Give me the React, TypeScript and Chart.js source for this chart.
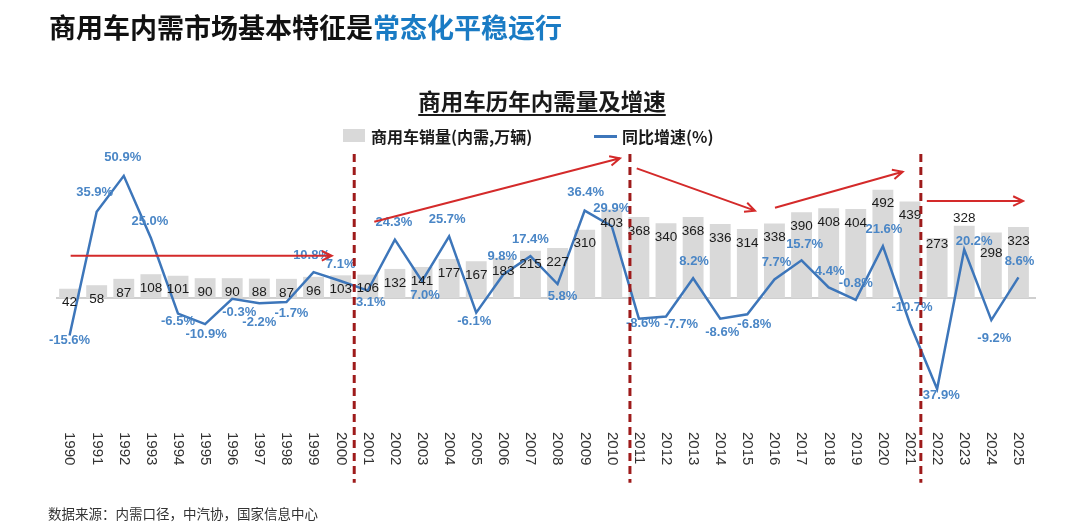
import React, { useRef, useEffect } from 'react';
import { Chart, registerables } from 'chart.js';

Chart.register(...registerables);

// 商用车内需量（万辆）及同比增速（%）
const years = [
  '1990', '1991', '1992', '1993', '1994', '1995', '1996', '1997', '1998', '1999',
  '2000', '2001', '2002', '2003', '2004', '2005', '2006', '2007', '2008', '2009',
  '2010', '2011', '2012', '2013', '2014', '2015', '2016', '2017', '2018', '2019',
  '2020', '2021', '2022', '2023', '2024', '2025',
];
const sales = [
  42, 58, 87, 108, 101, 90, 90, 88, 87, 96,
  103, 106, 132, 141, 177, 167, 183, 215, 227, 310,
  403, 368, 340, 368, 336, 314, 338, 390, 408, 404,
  492, 439, 273, 328, 298, 323,
];
const growth = [
  -15.6, 35.9, 50.9, 25.0, -6.5, -10.9, -0.3, -2.2, -1.7, 10.8,
  7.1, 3.1, 24.3, 7.0, 25.7, -6.1, 9.8, 17.4, 5.8, 36.4,
  29.9, -8.6, -7.7, 8.2, -8.6, -6.8, 7.7, 15.7, 4.4, -0.8,
  21.6, -10.7, -37.9, 20.2, -9.2, 8.6,
];

// label placement (px offsets from the point), kept apart from the data
const pctLabelDx = [
  0, -2, -1, -1, 0, 1, 7, 0, 5, -2, 0, 3, -1, 3, -2, -2, -1, 0, 5, 1,
  0, 4, 15, 1, 2, 7, 2, 3, 1, 0, 1, 2, 2, 10, 3, 1,
];
const pctLabelDy = [
  5, -19, -18, -17, 8, 10, 14, 19, 11, -17, -17, 12, -17, 14, -17, 9, -18, -17, 12, -18,
  -18, 5, 8, -17, 14, 10, -17, -16, -16, -16, -17, -16, 6, -8, 18, -16,
];
const barLabelDy: Record<number, number> = { 32: 6, 33: -8, 34: 21 };

// annotations in [category index, growth %]
const separators = [10.5, 20.67, 31.4];
const arrows = [
  [[0.04, 17.6], [9.67, 17.6]],
  [[11.24, 31.8], [20.3, 58.2]],
  [[20.92, 54.0], [25.28, 36.4]],
  [[26.02, 37.6], [30.73, 52.6]],
  [[31.62, 40.4], [35.17, 40.4]],
];

const NUM_FONT = "'Liberation Sans', Arial, sans-serif";

const overlayPlugin = {
  id: 'overlay',
  beforeDatasetsDraw(chart: any) {
    const { ctx, chartArea, scales } = chart;
    const y0 = scales.yBar.getPixelForValue(0);
    ctx.save();
    ctx.strokeStyle = '#bfbfbf';
    ctx.lineWidth = 1.5;
    ctx.beginPath();
    ctx.moveTo(chartArea.left, y0);
    ctx.lineTo(chartArea.right + 4, y0);
    ctx.stroke();
    ctx.restore();
  },
  afterDraw(chart: any) {
    const { ctx, chartArea, scales } = chart;
    const x = scales.x;
    const yBar = scales.yBar;
    const yPct = scales.yPct;
    ctx.save();

    // bar value labels
    ctx.font = `13.5px ${NUM_FONT}`;
    ctx.fillStyle = '#1a1a1a';
    ctx.textAlign = 'center';
    ctx.textBaseline = 'middle';
    sales.forEach((v, i) => {
      const dy = barLabelDy[i] ?? 14;
      ctx.fillText(String(v), x.getPixelForValue(i), yBar.getPixelForValue(v) + dy);
    });

    // growth labels
    ctx.font = `bold 13px ${NUM_FONT}`;
    ctx.fillStyle = '#4a86c6';
    growth.forEach((v, i) => {
      ctx.fillText(
        v.toFixed(1) + '%',
        x.getPixelForValue(i) + pctLabelDx[i],
        yPct.getPixelForValue(v) + pctLabelDy[i]
      );
    });

    // x labels, rotated clockwise
    ctx.font = `15px ${NUM_FONT}`;
    ctx.fillStyle = '#333';
    ctx.textAlign = 'left';
    years.forEach((label, i) => {
      ctx.save();
      ctx.translate(x.getPixelForValue(i), chartArea.bottom + 26);
      ctx.rotate(Math.PI / 2);
      ctx.fillText(label, 0, 0);
      ctx.restore();
    });

    // dashed period separators
    ctx.strokeStyle = '#9e1b1b';
    ctx.lineWidth = 3;
    ctx.setLineDash([8, 5]);
    separators.forEach((s) => {
      const px = x.getPixelForValue(s);
      ctx.beginPath();
      ctx.moveTo(px, yPct.getPixelForValue(60));
      ctx.lineTo(px, yPct.getPixelForValue(-77));
      ctx.stroke();
    });
    ctx.setLineDash([]);

    // trend arrows
    ctx.strokeStyle = '#d42a2a';
    ctx.lineWidth = 2;
    arrows.forEach(([a, b]) => {
      const x1 = x.getPixelForValue(a[0]);
      const y1 = yPct.getPixelForValue(a[1]);
      const x2 = x.getPixelForValue(b[0]);
      const y2 = yPct.getPixelForValue(b[1]);
      const ang = Math.atan2(y2 - y1, x2 - x1);
      const head = 11;
      ctx.beginPath();
      ctx.moveTo(x1, y1);
      ctx.lineTo(x2, y2);
      ctx.moveTo(x2 - head * Math.cos(ang - 0.45), y2 - head * Math.sin(ang - 0.45));
      ctx.lineTo(x2, y2);
      ctx.lineTo(x2 - head * Math.cos(ang + 0.45), y2 - head * Math.sin(ang + 0.45));
      ctx.stroke();
    });

    ctx.restore();
  },
};

const CommercialVehicleChart: React.FC = () => {
  const chartRef = useRef<HTMLCanvasElement | null>(null);
  const chartInstance = useRef<Chart | null>(null);

  useEffect(() => {
    document.body.style.margin = '0';
    if (!chartRef.current) return;
    if (chartInstance.current) chartInstance.current.destroy();

    chartInstance.current = new Chart(chartRef.current, {
      type: 'bar',
      data: {
        labels: years,
        datasets: [
          {
            type: 'line',
            label: '同比增速(%)',
            data: growth,
            yAxisID: 'yPct',
            borderColor: '#3d76ba',
            borderWidth: 2.5,
            pointRadius: 0,
            tension: 0,
            order: 0,
          } as any,
          {
            type: 'bar',
            label: '商用车销量(内需,万辆)',
            data: sales,
            yAxisID: 'yBar',
            backgroundColor: '#d9d9d9',
            barPercentage: 0.77,
            categoryPercentage: 1,
            order: 1,
          },
        ],
      },
      options: {
        responsive: true,
        maintainAspectRatio: false,
        animation: false,
        layout: { padding: { left: 56, right: 48, top: 142, bottom: 119 } },
        scales: {
          x: { display: false, offset: true },
          yBar: { display: false, min: -491, max: 709 },
          yPct: { display: false, min: -45, max: 65 },
        },
        plugins: {
          legend: { display: false },
          tooltip: { enabled: false },
        },
      },
      plugins: [overlayPlugin],
    });

    return () => {
      if (chartInstance.current) {
        chartInstance.current.destroy();
        chartInstance.current = null;
      }
    };
  }, []);

  const cjk = "'Noto Sans CJK SC', 'Noto Sans', sans-serif";

  return (
    <div style={{ position: 'relative', width: 1080, height: 525, background: '#fff', fontFamily: cjk }}>
      <canvas ref={chartRef} />
      <div style={{ position: 'absolute', left: 49, top: 12, fontSize: 27, fontWeight: 700, lineHeight: '30px', color: '#111' }}>
        商用车内需市场基本特征是<span style={{ color: '#1a7bc4' }}>常态化平稳运行</span>
      </div>
      <div
        style={{
          position: 'absolute', left: 0, width: 1084, top: 87, textAlign: 'center',
          fontSize: 22.5, fontWeight: 700, lineHeight: '26px', color: '#1a1a1a',
          textDecoration: 'underline', textUnderlineOffset: 4, textDecorationThickness: 2,
        }}
      >
        商用车历年内需量及增速
      </div>
      <div style={{ position: 'absolute', left: 343, top: 129, width: 22, height: 13, background: '#d9d9d9' }} />
      <div style={{ position: 'absolute', left: 371, top: 125, fontSize: 16, fontWeight: 700, lineHeight: '22px', color: '#1a1a1a' }}>
        商用车销量(内需,万辆)
      </div>
      <div style={{ position: 'absolute', left: 594, top: 135, width: 23, height: 2.5, background: '#3d76ba' }} />
      <div style={{ position: 'absolute', left: 622, top: 125, fontSize: 16, fontWeight: 700, lineHeight: '22px', color: '#1a1a1a' }}>
        同比增速(%)
      </div>
      <div style={{ position: 'absolute', left: 48, top: 503, fontSize: 13.5, lineHeight: '20px', color: '#333' }}>
        数据来源：内需口径，中汽协，国家信息中心
      </div>
    </div>
  );
};

export default function App() {
  return <CommercialVehicleChart />;
}
